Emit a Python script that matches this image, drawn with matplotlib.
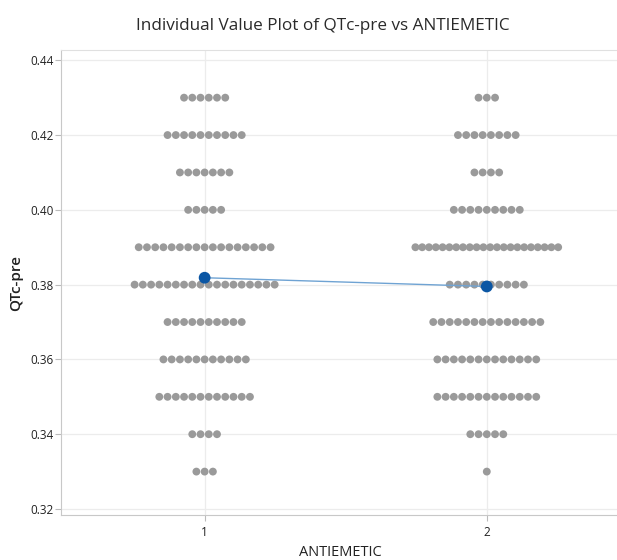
import matplotlib.pyplot as plt
import numpy as np

# QTc-pre levels and how many patients sit on each level
levels = [0.43, 0.42, 0.41, 0.40, 0.39, 0.38, 0.37, 0.36, 0.35, 0.34, 0.33]
counts_1 = [6, 10, 7, 5, 17, 18, 10, 11, 12, 4, 3]
counts_2 = [3, 8, 4, 9, 22, 10, 14, 13, 13, 5, 1]
groups = [1, 2]

DOT_STEP = 0.0292      # horizontal gap between stacked dots (x units)
MAX_HALF = 0.253       # widest a row can get before dots squeeze together


def row_offsets(n):
    step = DOT_STEP
    if (n - 1) * step / 2 > MAX_HALF:
        step = 2 * MAX_HALF / (n - 1)
    return (np.arange(n) - (n - 1) / 2) * step


plt.rcParams['font.family'] = ['Open Sans', 'DejaVu Sans']
fig = plt.figure(figsize=(6.17, 5.6), dpi=100)
ax = fig.add_axes([0.0989, 0.0804, 0.905, 0.830])

means = []
for g, counts in zip(groups, [counts_1, counts_2]):
    xs, ys = [], []
    for lev, n in zip(levels, counts):
        xs.extend(g + row_offsets(n))
        ys.extend([lev] * n)
    ax.scatter(xs, ys, s=32, color='#9a9a9a', edgecolors='none', zorder=3)
    means.append(np.mean(ys))

# mean connect line
ax.plot(groups, means, color='#6fa3d3', lw=1.0, zorder=4)
ax.scatter(groups, means, s=72, color='#0b56a4', edgecolors='none', zorder=5)

ax.set_xlim(0.491, 2.47)
ax.set_ylim(0.3184, 0.4427)
ax.set_xticks(groups)
ax.set_yticks(np.arange(0.32, 0.4401, 0.02))
ax.yaxis.set_major_formatter(plt.FormatStrFormatter('%.2f'))
ax.grid(True, color='#ececec', lw=0.9, zorder=0)
ax.set_axisbelow(True)
for s in ax.spines.values():
    s.set_color('#e0e0e0')
ax.spines['left'].set_color('#c8c8c8')
ax.spines['bottom'].set_color('#c8c8c8')
ax.tick_params(axis='y', colors='#bbbbbb', labelcolor='#222222', labelsize=8.5,
               length=4, pad=1.5)
ax.tick_params(axis='x', colors='#bbbbbb', labelcolor='#222222', labelsize=8.5,
               length=4, pad=4)

ax.set_xlabel('ANTIEMETIC', fontsize=10.5, color='#222222', labelpad=4)
ax.set_ylabel('QTc-pre', fontsize=11, color='#222222', labelpad=5, fontweight='semibold')
fig.suptitle('Individual Value Plot of QTc-pre vs ANTIEMETIC', x=0.523, y=0.968,
             fontsize=12.3, color='#2a2a2a')

plt.savefig('out.png', dpi=100)
